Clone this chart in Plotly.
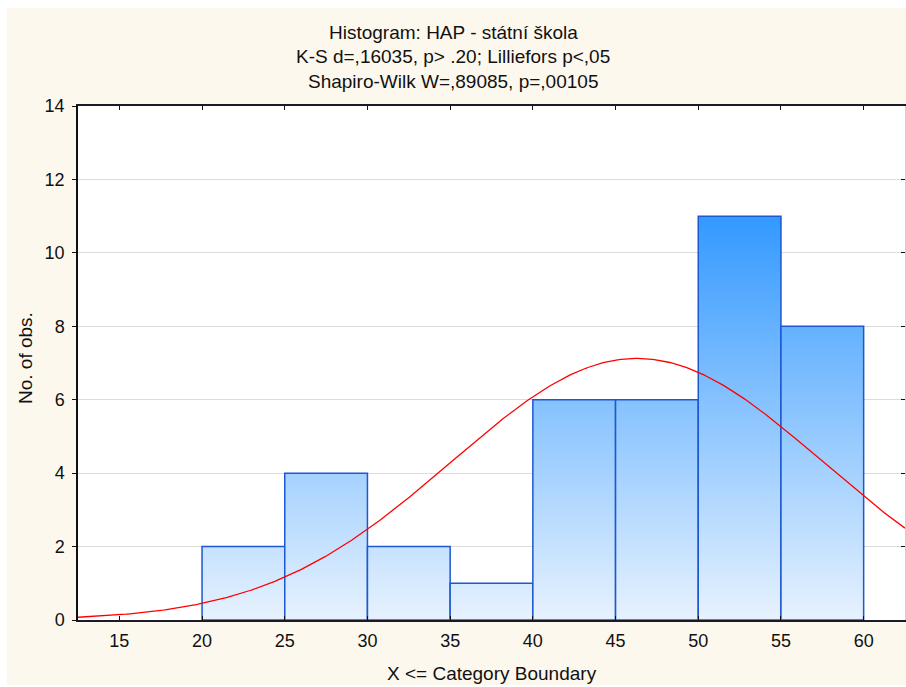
import numpy as np
import plotly.graph_objects as go

# Histogram bins (upper boundary inclusive) and observed counts
bin_lower = [20, 25, 30, 35, 40, 45, 50, 55]
bin_upper = [25, 30, 35, 40, 45, 50, 55, 60]
counts = [2, 4, 2, 1, 6, 6, 11, 8]

# Fitted normal distribution parameters
fit_mean = 46.3
fit_sd = 11.2

title_lines = [
    "Histogram: HAP - státní škola",
    "K-S d=,16035, p> .20; Lilliefors p<,05",
    "Shapiro-Wilk W=,89085, p=,00105",
]
x_title = "X <= Category Boundary"
y_title = "No. of obs."
x_ticks = [15, 20, 25, 30, 35, 40, 45, 50, 55, 60]
y_ticks = [0, 2, 4, 6, 8, 10, 12, 14]
x_range = [12.5, 62.5]
y_range = [0, 14]

# Figure geometry (pixels)
W, H = 906, 687
ML, MR, MT, MB = 78, 1, 106, 67
PW, PH = W - ML - MR, H - MT - MB


def px_x(px):
    return (px - ML) / PW


def px_y(py):
    return (H - MB - py) / PH


FONT = "Liberation Sans, Arial, sans-serif"
TXT = "#111111"
CREAM = "#FDF8EE"
LIGHT = "rgb(231,242,254)"
DARK = "rgb(51,153,255)"
EDGE = "rgb(28,88,208)"
TITLE_SIZE = 19
TICK_SIZE = 18

fig = go.Figure()

# Bars as filled outlines with a vertical gradient keyed to the count axis
for lo, hi, c in zip(bin_lower, bin_upper, counts):
    fig.add_trace(go.Scatter(
        x=[lo, lo, hi, hi, lo],
        y=[0, c, c, 0, 0],
        mode="lines",
        fill="toself",
        fillgradient=dict(
            type="vertical",
            colorscale=[[0, LIGHT], [1, DARK]],
            start=0,
            stop=max(counts),
        ),
        line=dict(color=EDGE, width=1.5),
        hoverinfo="skip",
        showlegend=False,
    ))

# Expected normal frequencies over the visible range
n_obs = sum(counts)
bin_width = bin_upper[0] - bin_lower[0]
xs = np.linspace(x_range[0], x_range[1], 400)
ys = n_obs * bin_width * np.exp(-0.5 * ((xs - fit_mean) / fit_sd) ** 2) / (fit_sd * np.sqrt(2 * np.pi))
fig.add_trace(go.Scatter(
    x=xs, y=ys, mode="lines",
    line=dict(color="#FF0000", width=1.3),
    hoverinfo="skip", showlegend=False,
))

# Empty trace so the right-hand mirror axis is drawn
fig.add_trace(go.Scatter(x=[], y=[], yaxis="y2", showlegend=False, hoverinfo="skip"))

annotations = []
for i, line in enumerate(title_lines):
    annotations.append(dict(
        x=px_x(W / 2), xref="paper", y=px_y(32 + 25 * i), yref="paper",
        text=line, showarrow=False, xanchor="center", yanchor="middle",
        font=dict(family=FONT, size=TITLE_SIZE, color=TXT),
    ))

annotations.append(dict(
    x=px_x(492), xref="paper", y=px_y(673), yref="paper",
    text=x_title, showarrow=False, xanchor="center", yanchor="middle",
    font=dict(family=FONT, size=TITLE_SIZE, color=TXT),
))
annotations.append(dict(
    x=px_x(25), xref="paper", y=px_y(358), yref="paper",
    text=y_title, showarrow=False, textangle=-90,
    xanchor="center", yanchor="middle",
    font=dict(family=FONT, size=TITLE_SIZE, color=TXT),
))

shapes = [
    # white frame around the cream page
    dict(type="rect", xref="paper", yref="paper", layer="above",
         x0=px_x(0), x1=px_x(7), y0=px_y(H), y1=px_y(0),
         fillcolor="white", line=dict(width=0)),
    dict(type="rect", xref="paper", yref="paper", layer="above",
         x0=px_x(0), x1=px_x(W), y0=px_y(8), y1=px_y(0),
         fillcolor="white", line=dict(width=0)),
    dict(type="rect", xref="paper", yref="paper", layer="above",
         x0=px_x(0), x1=px_x(W), y0=px_y(H), y1=px_y(685),
         fillcolor="white", line=dict(width=0)),
]

fig.update_layout(
    width=W, height=H,
    margin=dict(l=ML, r=MR, t=MT, b=MB, pad=0),
    paper_bgcolor=CREAM,
    plot_bgcolor="white",
    font=dict(family=FONT, size=TICK_SIZE, color=TXT),
    showlegend=False,
    annotations=annotations,
    shapes=shapes,
    xaxis=dict(
        range=x_range, tickvals=x_ticks, ticks="inside", ticklen=4,
        tickcolor="#111111", tickwidth=1.2,
        showline=True, linecolor="#1a1a2a", linewidth=2, mirror="ticks",
        showgrid=False, zeroline=False, ticklabelstandoff=3,
        tickfont=dict(family=FONT, size=TICK_SIZE, color=TXT),
    ),
    yaxis=dict(
        range=y_range, tickvals=y_ticks, ticks="outside", ticklen=4,
        tickcolor="#111111", tickwidth=1.2,
        showline=True, linecolor="#111111", linewidth=1.5,
        showgrid=True, gridcolor="#DCDCDC", gridwidth=1,
        zeroline=False, ticklabelstandoff=4,
        tickfont=dict(family=FONT, size=TICK_SIZE, color=TXT),
    ),
    yaxis2=dict(
        range=y_range, tickvals=y_ticks, overlaying="y", side="right",
        ticks="inside", ticklen=4, tickcolor="#111111", tickwidth=1.2,
        showticklabels=False, showline=True, linecolor="#CFCFCF", linewidth=1,
        showgrid=False, zeroline=False,
    ),
)

fig.write_html("out.html")
